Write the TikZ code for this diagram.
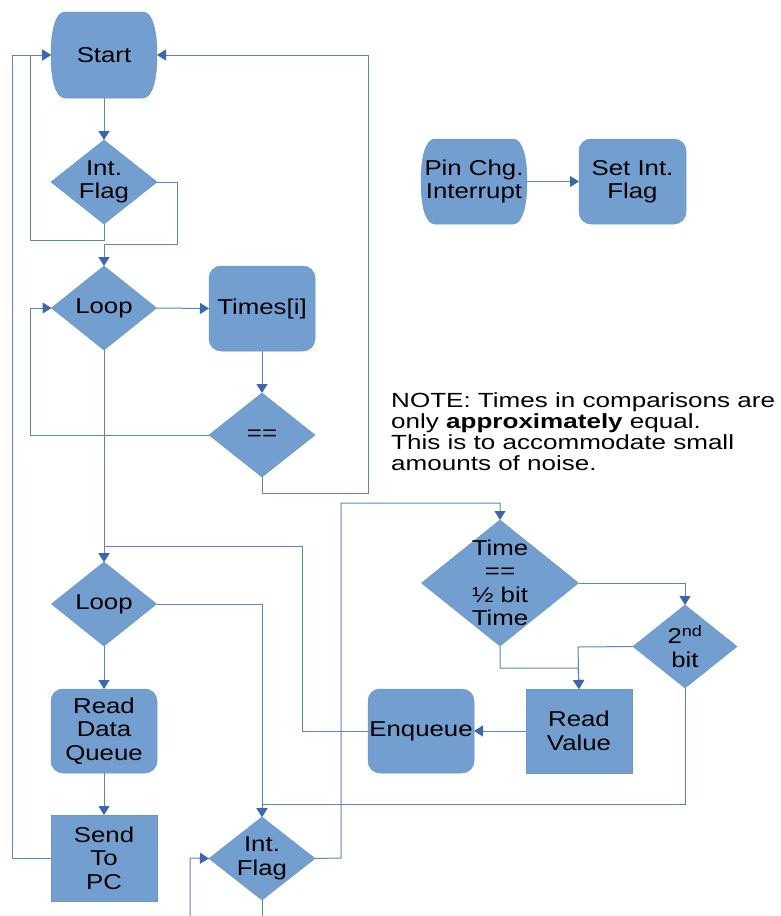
\documentclass[tikz,border=0pt]{standalone}
\usepackage{fontspec}
\setmainfont{Liberation Sans}[FakeStretch=1.2]
\newfontfamily\notefont{Liberation Sans}[FakeStretch=1.27]
\usetikzlibrary{shapes.geometric,arrows.meta,backgrounds}
\definecolor{boxfill}{HTML}{729FCF}
\definecolor{boxline}{HTML}{6A96CA}
\definecolor{linec}{HTML}{5B85C2}
\definecolor{tipc}{HTML}{3A68AE}
\tikzset{
 shapebase/.style={fill=boxfill, draw=boxline, line width=0.5pt, inner sep=0pt, outer sep=0pt, minimum width=106pt, minimum height=84pt},
 dia/.style={shapebase, diamond},
 rbox/.style={shapebase, rectangle, rounded corners=12pt, align=center},
 sbox/.style={shapebase, rectangle, align=center},
 termbox/.style={rectangle, inner sep=0pt, outer sep=0pt, minimum width=106pt, minimum height=86pt, align=center},
 txt/.style={align=center, inner sep=0pt},
 conn/.style={draw=linec, line width=1pt},
 arr/.style={conn, -{Triangle[length=9pt,width=11pt,color=tipc]}},
}
\newcommand\termshape[1]{%
 \fill[boxfill, draw=boxline, line width=0.5pt]
 ([xshift=14pt]#1.north west) -- ([xshift=-14pt]#1.north east)
 .. controls ([xshift=-4pt]#1.north east) and ([yshift=22pt]#1.east) .. (#1.east)
 .. controls ([yshift=-22pt]#1.east) and ([xshift=-4pt]#1.south east) .. ([xshift=-14pt]#1.south east)
 -- ([xshift=14pt]#1.south west)
 .. controls ([xshift=4pt]#1.south west) and ([yshift=-22pt]#1.west) .. (#1.west)
 .. controls ([yshift=22pt]#1.west) and ([xshift=4pt]#1.north west) .. ([xshift=14pt]#1.north west) -- cycle;}
\begin{document}
\begin{tikzpicture}[x=1pt,y=-1pt, font=\fontsize{21.5}{23.5}\selectfont]
\useasboundingbox (0,0) rectangle (780,916);

% shapes
\node[termbox] (start) at (104,55) {Start};
\node[dia] (if1) at (104,182) {};
\node[txt] (if1t) at (if1) {Int.\\Flag};
\node[dia, minimum width=105pt] (loop1) at (104,308) {};
\node[txt] (loop1t) at (loop1) {Loop};
\node[rbox, minimum height=85pt] (times) at (262,308.5) {Times[i]};
\node[dia] (eq) at (262,435) {};
\node[txt] (eqt) at (eq) {==};
\node[dia, minimum width=105pt] (loop2) at (104,604) {};
\node[txt] (loop2t) at (loop2) {Loop};
\node[rbox] (rdq) at (104,731) {Read\\Data\\Queue};
\node[sbox, minimum height=86pt] (send) at (104,858) {Send\\To\\PC};
\node[dia, minimum height=83pt] (if2) at (262,858.5) {};
\node[txt] (if2t) at (if2) {Int.\\Flag};
\node[dia, minimum width=157pt, minimum height=126pt] (tq) at (500,583) {};
\node[txt] (tqt) at (tq) {Time\\==\\½ bit\\Time};
\node[dia, minimum width=104pt, minimum height=83pt] (bit2) at (685,646.5) {};
\node[txt] (bit2t) at (bit2) {2\textsuperscript{nd}\\bit};
\node[sbox] (rv) at (579,731) {Read\\Value};
\node[rbox] (enq) at (421,731) {Enqueue};
\node[termbox, minimum height=85pt] (pin) at (474,181.5) {Pin Chg.\\Interrupt};
\node[rbox, minimum width=107pt, minimum height=85pt] (set) at (632.5,181.5) {Set Int.\\Flag};

\begin{scope}[on background layer]
 \termshape{start}
 \termshape{pin}
\end{scope}

% note
\node[anchor=base west, align=left, inner sep=0pt, font=\notefont\fontsize{20.5}{20.7}\selectfont] (note) at (391,470)
 {NOTE: Times in comparisons are\\only \textbf{approximately} equal.\\This is to accommodate small\\amounts of noise.};

% free ends
\coordinate (if2out) at (262,916);
\coordinate (if2in) at (190,916);

% connectors
\draw[arr] (start.south) -- (if1.north);
\draw[arr] (if1.south) -- (104,240) -- (30,240) -- (30,55) -- (start.west);
\draw[arr] (if1.east) -- (177,182) -- (177,244) -- (104,244) -- (loop1.north);
\draw[arr] (send.west) -- (12,858) -- (12,55) -- (start.west);
\draw[arr] (loop1.east) -- (times.west);
\draw[arr] (times.south) -- (eq.north);
\draw[arr] (eq.west) -- (30,435) -- (30,308) -- (loop1.west);
\draw[arr] (eq.south) -- (262,493) -- (368,493) -- (368,55) -- (start.east);
\draw[arr] (loop1.south) -- (loop2.north);
\draw[arr] (enq.west) -- (302,731) -- (302,546) -- (104,546) -- (loop2.north);
\draw[arr] (loop2.east) -- (262,604) -- (if2.north);
\draw[arr] (loop2.south) -- (rdq.north);
\draw[arr] (rdq.south) -- (send.north);
\draw[conn] (if2.south) -- (if2out);
\draw[arr] (if2in) -- (190,858) -- (if2.west);
\draw[arr] (if2.east) -- (341,858) -- (341,503) -- (500,503) -- (tq.north);
\draw[arr] (bit2.south) -- (685,804) -- (262,804) -- (if2.north);
\draw[arr] (tq.east) -- (685,583) -- (bit2.north);
\draw[arr] (tq.south) -- (500,668) -- (578,668) -- (rv.north);
\draw[arr] (bit2.west) -- (578,647) -- (rv.north);
\draw[arr] (rv.west) -- (enq.east);
\draw[arr] (pin.east) -- (set.west);
\end{tikzpicture}
\end{document}
